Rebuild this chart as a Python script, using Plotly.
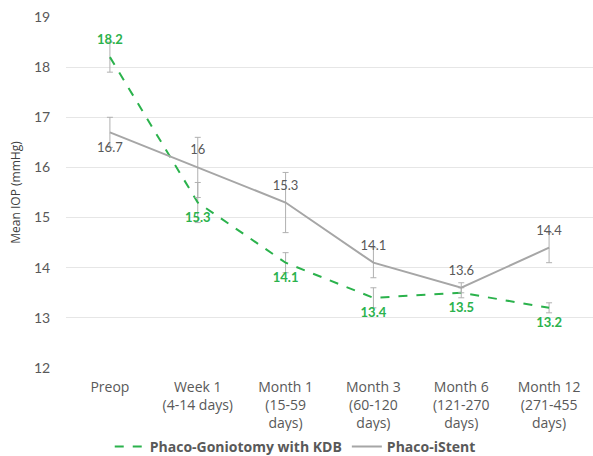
import plotly.graph_objects as go

categories = [
    "Preop",
    "Week 1<br>(4-14 days)",
    "Month 1<br>(15-59<br>days)",
    "Month 3<br>(60-120<br>days)",
    "Month 6<br>(121-270<br>days)",
    "Month 12<br>(271-455<br>days)",
]
kdb_mean = [18.2, 15.3, 14.1, 13.4, 13.5, 13.2]
kdb_err = [0.3, 0.4, 0.2, 0.2, 0.1, 0.1]
istent_mean = [16.7, 16.0, 15.3, 14.1, 13.6, 14.4]
istent_err = [0.3, 0.6, 0.6, 0.3, 0.1, 0.3]

kdb_text_pos = ["top center", "bottom center", "bottom center", "bottom center", "bottom center", "bottom center"]
istent_text_pos = ["bottom center", "top center", "top center", "top center", "top center", "top center"]

GREEN = "#2bb24c"
GREY = "#a6a6a6"
ERR = "#b0b0b0"
TXT = "#595959"
HIDDEN = "rgba(0,0,0,0)"

fig = go.Figure()
fig.add_trace(go.Scatter(
    x=categories, y=kdb_mean, mode="lines+markers+text",
    name="Phaco-Goniotomy with KDB",
    line=dict(color=GREEN, width=2, dash="dash"),
    marker=dict(size=14, color=HIDDEN),
    text=[f"{v:g}" for v in kdb_mean],
    textposition=kdb_text_pos,
    textfont=dict(family="Lato", size=13, color=GREEN, weight="bold"),
    error_y=dict(type="data", array=kdb_err, color=ERR, thickness=1, width=3),
))
fig.add_trace(go.Scatter(
    x=categories, y=istent_mean, mode="lines+markers+text",
    name="Phaco-iStent",
    line=dict(color=GREY, width=2),
    marker=dict(size=14, color=HIDDEN),
    text=[f"{v:g}" for v in istent_mean],
    textposition=istent_text_pos,
    textfont=dict(family="Lato", size=13, color=TXT),
    error_y=dict(type="data", array=istent_err, color=ERR, thickness=1, width=3),
))

fig.update_layout(
    width=593, height=456,
    margin=dict(l=66, r=0, t=17, b=88, autoexpand=False),
    paper_bgcolor="white", plot_bgcolor="white",
    showlegend=True,
    legend=dict(orientation="h", x=0.083, xanchor="left",
                y=-0.225, yanchor="middle",
                font=dict(family="Open Sans", size=14, color=TXT, weight="bold"),
                itemwidth=30, tracegroupgap=0),
    xaxis=dict(
        range=[-0.5, 5.5], automargin=False,
        showgrid=False, zeroline=False, showline=False,
        tickfont=dict(family="Open Sans", size=14, color=TXT),
        ticks="outside", ticklen=6, tickcolor="white",
    ),
    yaxis=dict(
        range=[12, 19], dtick=1, automargin=False,
        showgrid=True, gridcolor="#e6e6e6", gridwidth=1,
        zeroline=False, showline=False,
        ticks="outside", ticklen=12, tickcolor="white",
        tickfont=dict(family="Lato", size=14, color=TXT),
        title=dict(text="Mean IOP (mmHg)", font=dict(family="Open Sans", size=12, color="#404040"), standoff=10),
    ),
)

fig.write_html("out.html")
